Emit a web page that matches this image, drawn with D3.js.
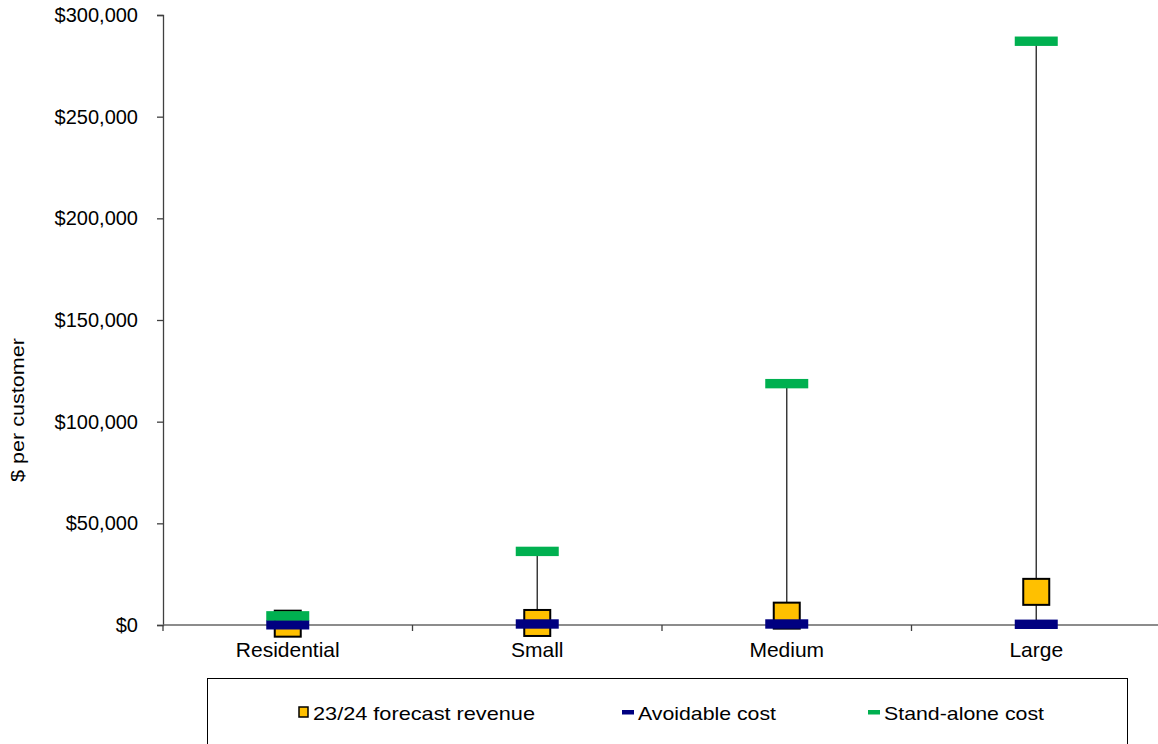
<!DOCTYPE html>
<html lang="en">
<head>
    <meta charset="UTF-8">
    <title>Revenue vs avoidable and stand-alone cost</title>
    <script src="https://d3js.org/d3.v7.min.js"></script>
    <style>
        body { margin: 0; background: #ffffff; }
        text { font-family: "Liberation Sans", Arial, sans-serif; fill: #000000; }
    </style>
</head>
<body>
    <div id="chart"></div>

    <script>
        // values ($ per customer)
        const categories = ["Residential", "Small", "Medium", "Large"];
        const revenue = [650, 1000, 4600, 16300];
        const avoidableCost = [100, 500, 500, 350];
        const standAloneCost = [4500, 36200, 118700, 287100];
        const yTicks = [0, 50000, 100000, 150000, 200000, 250000, 300000];
        const legendLabels = ["23/24 forecast revenue", "Avoidable cost", "Stand-alone cost"];

        const svg = d3.select("div#chart").append("svg")
            .attr("width", 1158)
            .attr("height", 744);

        const corner = {top: 15, bottom: 625, left: 163, right: 1161};

        const yScale = d3.scaleLinear().domain([0, 300000]).range([corner.bottom, corner.top]);
        const xScale = d3.scaleBand().domain(categories).range([corner.left, corner.right]);
        const cx = c => xScale(c) + xScale.bandwidth() / 2;

        // y axis ------------------------------------------------------------
        const yAxis = svg.append("g")
            .attr("transform", `translate(${corner.left},0)`)
            .call(d3.axisLeft(yScale).tickValues(yTicks).tickSize(6).tickPadding(19)
                .tickFormat(d => "$" + d3.format(",")(d)));
        yAxis.select(".domain").attr("stroke", "#404040").attr("stroke-width", 1.3);
        yAxis.selectAll(".tick line").attr("stroke", "#404040").attr("stroke-width", 1.3);
        yAxis.selectAll(".tick text").attr("font-size", 20).attr("font-family", "Liberation Sans, Arial, sans-serif");

        svg.append("text")
            .attr("transform", "translate(24,410) rotate(-90)")
            .attr("text-anchor", "middle")
            .attr("font-size", 19)
            .attr("textLength", 144)
            .attr("lengthAdjust", "spacingAndGlyphs")
            .text("$ per customer");

        // x axis ------------------------------------------------------------
        svg.append("line")
            .attr("x1", corner.left)
            .attr("x2", 1158)
            .attr("y1", yScale(0))
            .attr("y2", yScale(0))
            .attr("stroke", "#666666")
            .attr("stroke-width", 1.3);

        const bounds = categories.map(c => xScale(c)).concat([corner.right]);
        bounds.forEach(b => {
            svg.append("line")
                .attr("x1", b).attr("x2", b)
                .attr("y1", yScale(0)).attr("y2", yScale(0) + 6)
                .attr("stroke", "#404040")
                .attr("stroke-width", 1.3);
        });

        categories.forEach(c => {
            svg.append("text")
                .attr("x", cx(c))
                .attr("y", 657)
                .attr("text-anchor", "middle")
                .attr("font-size", 21)
                .text(c);
        });

        // high-low lines ----------------------------------------------------
        categories.forEach((c, i) => {
            const hi = Math.max(revenue[i], avoidableCost[i], standAloneCost[i]);
            const lo = Math.min(revenue[i], avoidableCost[i], standAloneCost[i]);
            svg.append("line")
                .attr("x1", cx(c)).attr("x2", cx(c))
                .attr("y1", yScale(hi)).attr("y2", yScale(lo))
                .attr("stroke", "#303030")
                .attr("stroke-width", 1.4);
        });

        // markers -----------------------------------------------------------
        categories.forEach((c, i) => {
            svg.append("rect")
                .attr("x", cx(c) - 13)
                .attr("y", yScale(revenue[i]) - 13)
                .attr("width", 26)
                .attr("height", 26)
                .attr("fill", "#FFC000")
                .attr("stroke", "#000000")
                .attr("stroke-width", 2);
        });
        categories.forEach((c, i) => {
            svg.append("rect")
                .attr("x", cx(c) - 21.5)
                .attr("y", yScale(avoidableCost[i]) - 4.7)
                .attr("width", 43)
                .attr("height", 9.4)
                .attr("fill", "#000080");
        });
        categories.forEach((c, i) => {
            svg.append("rect")
                .attr("x", cx(c) - 21.5)
                .attr("y", yScale(standAloneCost[i]) - 4.7)
                .attr("width", 43)
                .attr("height", 9.4)
                .attr("fill", "#00B050");
        });

        // legend ------------------------------------------------------------
        svg.append("rect")
            .attr("x", 207.5)
            .attr("y", 678.5)
            .attr("width", 920)
            .attr("height", 80)
            .attr("fill", "none")
            .attr("stroke", "#000000")
            .attr("stroke-width", 1);

        const legendX = [299, 622, 868];
        const legendW = [222, 138, 160];

        svg.append("rect")
            .attr("x", legendX[0]).attr("y", 707)
            .attr("width", 9).attr("height", 10)
            .attr("fill", "#FFC000")
            .attr("stroke", "#000000")
            .attr("stroke-width", 1.5);
        svg.append("rect")
            .attr("x", legendX[1]).attr("y", 710)
            .attr("width", 12).attr("height", 4.5)
            .attr("fill", "#000080");
        svg.append("rect")
            .attr("x", legendX[2]).attr("y", 710)
            .attr("width", 12).attr("height", 4.5)
            .attr("fill", "#00B050");

        legendLabels.forEach((l, i) => {
            svg.append("text")
                .attr("x", legendX[i] + (i === 0 ? 14 : 16))
                .attr("y", 720)
                .attr("font-size", 19)
                .attr("textLength", legendW[i])
                .attr("lengthAdjust", "spacingAndGlyphs")
                .text(l);
        });
    </script>
</body>
</html>
